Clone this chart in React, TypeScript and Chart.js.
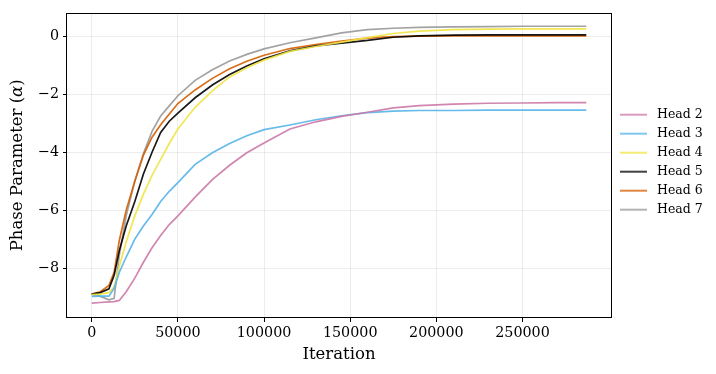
import React, { useEffect, useRef } from "react";
import { Chart, registerables } from "chart.js";

Chart.register(...registerables);

const ITERATIONS = [0, 5000, 10000, 13000, 16000, 20000, 25000, 30000, 35000, 40000, 45000, 50000, 60000, 70000, 80000, 90000, 100000, 115000, 130000, 145000, 160000, 175000, 190000, 210000, 230000, 250000, 270000, 287000];

const HEAD_2 = [-9.21, -9.19, -9.17, -9.16, -9.12, -8.82, -8.35, -7.8, -7.3, -6.88, -6.5, -6.2, -5.55, -4.95, -4.45, -4.02, -3.68, -3.2, -2.95, -2.76, -2.62, -2.47, -2.39, -2.34, -2.31, -2.3, -2.29, -2.29];
const HEAD_3 = [-8.98, -8.97, -8.97, -8.7, -8.15, -7.62, -7.0, -6.55, -6.15, -5.7, -5.35, -5.05, -4.42, -4.02, -3.7, -3.43, -3.22, -3.06, -2.88, -2.74, -2.63, -2.58, -2.56, -2.56, -2.55, -2.55, -2.55, -2.55];
const HEAD_4 = [-8.92, -8.9, -8.85, -8.65, -7.95, -7.1, -6.2, -5.45, -4.8, -4.25, -3.7, -3.2, -2.45, -1.88, -1.4, -1.08, -0.82, -0.52, -0.35, -0.2, -0.04, 0.1, 0.18, 0.23, 0.25, 0.26, 0.26, 0.26];
const HEAD_5 = [-8.9, -8.85, -8.72, -8.25, -7.4, -6.55, -5.7, -4.75, -4.0, -3.32, -2.93, -2.65, -2.12, -1.68, -1.32, -1.02, -0.77, -0.5, -0.33, -0.23, -0.14, -0.03, 0.02, 0.04, 0.05, 0.05, 0.05, 0.05];
const HEAD_6 = [-8.9, -8.82, -8.6, -8.15, -7.05, -6.0, -5.0, -4.1, -3.48, -3.05, -2.68, -2.32, -1.85, -1.45, -1.12, -0.86, -0.65, -0.42, -0.28, -0.16, -0.06, -0.01, 0.01, 0.02, 0.02, 0.02, 0.02, 0.02];
const HEAD_7 = [-8.9, -8.98, -9.1, -9.05, -7.55, -6.2, -5.0, -4.05, -3.28, -2.75, -2.4, -2.05, -1.52, -1.15, -0.85, -0.62, -0.43, -0.22, -0.05, 0.12, 0.23, 0.28, 0.31, 0.33, 0.34, 0.35, 0.35, 0.35];

const SERIES_LABELS = ["Head 2", "Head 3", "Head 4", "Head 5", "Head 6", "Head 7"];
const SERIES_VALUES = [HEAD_2, HEAD_3, HEAD_4, HEAD_5, HEAD_6, HEAD_7];
const SERIES_RGB = ["204,121,167", "86,180,233", "240,228,66", "0,0,0", "213,94,0", "153,153,153"];

const X_TICKS = [0, 50000, 100000, 150000, 200000, 250000];
const Y_TICKS = [-8, -6, -4, -2, 0];

const X_TITLE = "Iteration";
const Y_TITLE_PARTS = ["Phase Parameter (", "α", ")"];

const FONT = "'DejaVu Serif', serif";
const TITLE_SIZE = 16.5;

const decorPlugin = {
  id: "decor",
  afterDraw(chart: any) {
    const { ctx, chartArea: a } = chart;
    ctx.save();
    ctx.strokeStyle = "#000";
    ctx.lineWidth = 1;
    ctx.strokeRect(Math.round(a.left) - 0.5, Math.round(a.top) + 0.5, Math.round(a.right - a.left) + 1, Math.round(a.bottom - a.top) - 1);

    const normal = `${TITLE_SIZE}px ${FONT}`;
    const italic = `italic ${TITLE_SIZE}px ${FONT}`;
    ctx.font = normal;
    const w0 = ctx.measureText(Y_TITLE_PARTS[0]).width;
    const w2 = ctx.measureText(Y_TITLE_PARTS[2]).width;
    ctx.font = italic;
    const w1 = ctx.measureText(Y_TITLE_PARTS[1]).width;
    const total = w0 + w1 + w2;
    ctx.translate(18, (a.top + a.bottom) / 2);
    ctx.rotate(-Math.PI / 2);
    ctx.fillStyle = "#000";
    ctx.textBaseline = "middle";
    ctx.textAlign = "left";
    let x = -total / 2;
    ctx.font = normal;
    ctx.fillText(Y_TITLE_PARTS[0], x, 0);
    x += w0;
    ctx.font = italic;
    ctx.fillText(Y_TITLE_PARTS[1], x, 0);
    x += w1;
    ctx.font = normal;
    ctx.fillText(Y_TITLE_PARTS[2], x, 0);
    ctx.restore();

    ctx.save();
    const lx = 620;
    const ly0 = 114.7;
    const step = 19;
    ctx.font = `12.5px ${FONT}`;
    ctx.textBaseline = "middle";
    ctx.textAlign = "left";
    chart.data.datasets.forEach((ds: any, i: number) => {
      const y = ly0 + i * step;
      ctx.strokeStyle = `rgba(${SERIES_RGB[i]},0.75)`;
      ctx.lineWidth = 2;
      ctx.beginPath();
      ctx.moveTo(lx, y);
      ctx.lineTo(lx + 27, y);
      ctx.stroke();
      ctx.fillStyle = "#000";
      ctx.fillText(ds.label, lx + 37, y + 0.5);
    });
    ctx.restore();
  },
};

export default function App() {
  const ref = useRef<HTMLCanvasElement | null>(null);

  useEffect(() => {
    document.body.style.margin = "0";
    const canvas = ref.current;
    if (!canvas) return;
    const datasets = SERIES_LABELS.map((label, i) => ({
      label,
      data: ITERATIONS.map((x, j) => ({ x, y: SERIES_VALUES[i][j] })),
      borderColor: `rgba(${SERIES_RGB[i]},0.9)`,
      backgroundColor: `rgba(${SERIES_RGB[i]},0.9)`,
      borderWidth: 1.7,
      pointRadius: 0,
      tension: 0,
      fill: false,
    }));
    const tickFont = { family: FONT, size: 14.3 };
    const chart = new Chart(canvas, {
      type: "line",
      data: { datasets },
      options: {
        responsive: false,
        animation: false,
        devicePixelRatio: 1,
        layout: { padding: { left: 0, right: 105, top: 10, bottom: 0 } },
        plugins: { legend: { display: false }, tooltip: { enabled: false }, title: { display: false } },
        scales: {
          x: {
            type: "linear",
            min: -14350,
            max: 301350,
            afterFit: (s: any) => { s.height = 56; },
            afterBuildTicks: (s: any) => { s.ticks = X_TICKS.map((v) => ({ value: v })); },
            ticks: { font: tickFont, color: "#000", padding: 2.5, maxRotation: 0, callback: (v: any) => String(v) },
            grid: { color: "rgba(176,176,176,0.3)", lineWidth: 0.8, tickColor: "#000", tickLength: 4, tickWidth: 1 },
            border: { display: false },
            title: { display: true, text: X_TITLE, font: { family: FONT, size: TITLE_SIZE }, color: "#000", padding: { top: 0, bottom: 9 } },
          },
          y: {
            type: "linear",
            min: -9.726,
            max: 0.822,
            afterFit: (s: any) => { s.width = 67; },
            afterBuildTicks: (s: any) => { s.ticks = Y_TICKS.map((v) => ({ value: v })); },
            ticks: { font: tickFont, color: "#000", padding: 4, callback: (v: any) => (v < 0 ? "\u2212" + Math.abs(v) : String(v)) },
            grid: { color: "rgba(176,176,176,0.3)", lineWidth: 0.8, tickColor: "#000", tickLength: 4, tickWidth: 1 },
            border: { display: false },
          },
        },
      },
      plugins: [decorPlugin],
    });
    return () => chart.destroy();
  }, []);

  return <canvas ref={ref} width={716} height={374} style={{ display: "block", width: 716, height: 374 }} />;
}
